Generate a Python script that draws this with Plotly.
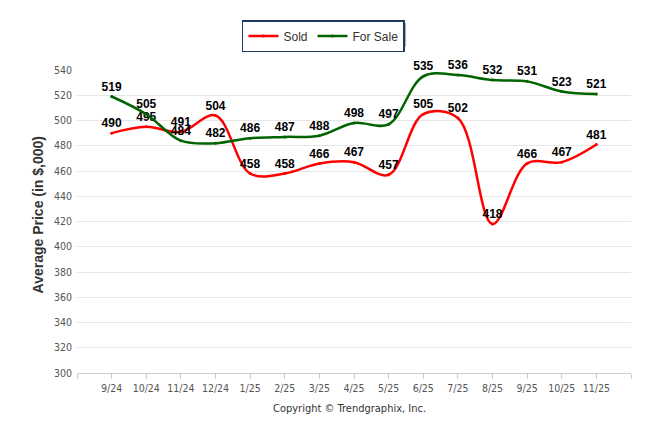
import plotly.graph_objects as go

months = ["9/24", "10/24", "11/24", "12/24", "1/25", "2/25", "3/25", "4/25",
          "5/25", "6/25", "7/25", "8/25", "9/25", "10/25", "11/25"]
sold = [490, 495, 491, 504, 458, 458, 466, 467, 457, 505, 502, 418, 466, 467, 481]
for_sale = [519, 505, 484, 482, 486, 487, 488, 498, 497, 535, 536, 532, 531, 523, 521]

x = list(range(len(months)))
label_font = dict(family="Liberation Sans, Arial", size=12, color="black")

fig = go.Figure()
fig.add_trace(go.Scatter(x=x, y=sold, name="Sold",
                         mode="lines+markers+text",
                         line=dict(color="#ff0000", width=2.5, shape="spline", smoothing=1),
                         marker=dict(size=3, color="#ff0000"),
                         text=[f"<b>{v}</b>" for v in sold],
                         textposition="top center", textfont=label_font,
                         cliponaxis=False))
fig.add_trace(go.Scatter(x=x, y=for_sale, name="For Sale",
                         mode="lines+markers+text",
                         line=dict(color="#006400", width=2.5, shape="spline", smoothing=1),
                         marker=dict(size=3, color="#006400"),
                         text=[f"<b>{v}</b>" for v in for_sale],
                         textposition="top center", textfont=label_font,
                         cliponaxis=False))

tick_font = dict(family="Liberation Sans Narrow, DejaVu Sans Condensed, Arial Narrow", size=10.5, color="#555555")

fig.update_xaxes(range=[-1, len(months)],
                 tickvals=list(range(-1, len(months) + 1)),
                 ticktext=[""] + months + [""],
                 ticks="outside", ticklen=5, tickcolor="#cccccc",
                 showline=True, linecolor="#cccccc", linewidth=1,
                 showgrid=False, zeroline=False, tickfont=tick_font)
fig.update_yaxes(range=[300, 540], dtick=20,
                 showgrid=True, gridcolor="#e6e6e6", gridwidth=1,
                 zeroline=False, showline=False, tickfont=tick_font,
                 ticklabelstandoff=4)

# plot area in page pixels: left 77.4, width 553.2, top 64.7, height 308
# legend shadow
fig.add_shape(type="rect", xref="paper", yref="paper",
              x0=(248 - 77.4) / 553.2, x1=(406 - 77.4) / 553.2,
              y0=1 + (64.7 - 41) / 308, y1=1 + (64.7 - 17) / 308,
              fillcolor="#b0b0b0", line=dict(width=0), layer="below")

fig.update_layout(
    width=638, height=426,
    margin=dict(l=69.4, r=15.4, t=56.7, b=61.3),
    paper_bgcolor="white", plot_bgcolor="white",
    font=dict(family="Liberation Sans, Arial", color="#333333"),
    showlegend=True,
    legend=dict(orientation="h", x=(323.5 - 77.4) / 553.2, xanchor="center",
                y=1 + (64.7 - 14) / 308, yanchor="top",
                bgcolor="white", bordercolor="#1f3864", borderwidth=1.5,
                font=dict(family="Liberation Sans, Arial", size=12, color="#333333"),
                itemwidth=30),
    annotations=[
        dict(text="<b>Average Price (in $,000)</b>", textangle=-90,
             xref="paper", yref="paper", x=(38 - 77.4) / 553.2, y=(372.7 - 212) / 308,
             xanchor="center", yanchor="middle", showarrow=False,
             font=dict(family="Liberation Sans, Arial", size=14, color="#333333")),
        dict(text="Copyright © Trendgraphix, Inc.",
             xref="paper", yref="paper", x=(350 - 77.4) / 553.2, y=-(409 - 372.7) / 308,
             xanchor="center", yanchor="middle", showarrow=False,
             font=dict(family="Liberation Sans Narrow, DejaVu Sans Condensed, Arial", size=11, color="#333333")),
    ],
)

fig.write_html("out.html")
